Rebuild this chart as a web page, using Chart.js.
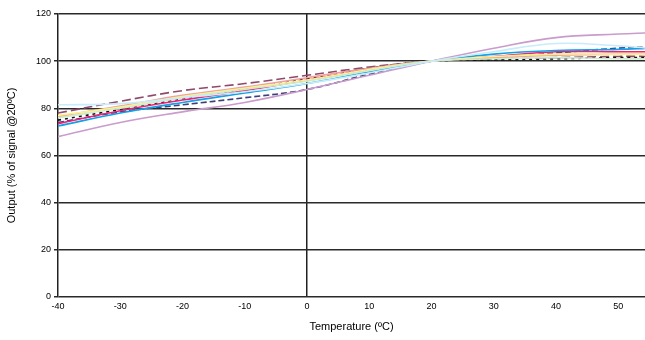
<!DOCTYPE html>
<html>
<head>
<meta charset="utf-8">
<script src="https://cdn.jsdelivr.net/npm/chart.js@4"></script>
<style>
  html, body { margin: 0; padding: 0; background: #fff; }
  #wrap { width: 645px; height: 340px; }
</style>
</head>
<body>
<div id="wrap"><canvas id="myChart"></canvas></div>
<script>
// temperatures (ºC) where values were read
const temps = [-40, -30, -20, -10, 0, 10, 20, 30, 40, 50, 55]

// output in % of signal at 20ºC, one array per sensor
const maroon    = [78, 83, 87.5, 90.5, 94, 97.5, 100, 101, 101.5, 102, 102]
const black     = [75, 79.5, 84, 88, 92.5, 97, 100, 100.5, 101, 101.5, 101.5]
const yellow    = [77, 80.5, 85, 88.5, 92, 96.5, 100, 102, 103, 103, 103]
const lightCyan = [81.5, 82, 84.5, 87, 90.5, 95, 100, 104, 107.5, 106.5, 105.5]
const magenta   = [73.5, 79, 83.5, 87.5, 92, 96.5, 100, 102, 104, 104, 104]
const skyBlue   = [72.5, 78, 82.5, 86.5, 90.5, 95.5, 100, 103, 104.5, 105, 105.5]
const navy      = [74, 78.5, 81.5, 84.5, 88, 94.5, 100, 101.5, 103.5, 105.5, 106]
const lilac     = [68, 74, 78.5, 82.5, 88, 94, 100, 105.5, 110, 111.5, 112]
const paleGreen = [76, 80, 84.5, 88, 91.5, 96, 100, 101, 101.5, 101, 101]
const salmon    = [76.5, 81, 85.5, 89, 93, 97, 100, 101.5, 102.5, 103, 103]

const xTicks = [-40, -30, -20, -10, 0, 10, 20, 30, 40, 50]
const yTicks = [0, 20, 40, 60, 80, 100, 120]

const series = [
    { label: 'S1', data: lightCyan, color: '#c8ecfa' },
    { label: 'S2', data: paleGreen, color: '#cdeccd' },
    { label: 'S3', data: yellow, color: '#fff08a' },
    { label: 'S4', data: salmon, color: '#f0a0a0' },
    { label: 'S5', data: lilac, color: '#c99ccc' },
    { label: 'S6', data: skyBlue, color: '#12a0e6' },
    { label: 'S7', data: magenta, color: '#ee2277' },
    { label: 'S8', data: navy, color: '#3c3f7a', dash: [6, 3] },
    { label: 'S9', data: black, color: '#111111', dash: [3, 4] },
    { label: 'S10', data: maroon, color: '#8e4a6a', dash: [9, 4] }
]

const font = { family: 'Liberation Sans, Arial, sans-serif', size: 9 }

new Chart(document.getElementById('myChart').getContext('2d'), {
    type: 'line',
    data: {
        datasets: series.map(s => ({
            label: s.label,
            data: temps.map((t, i) => ({ x: t, y: s.data[i] })),
            borderColor: s.color,
            borderWidth: 1.6,
            borderDash: s.dash || [],
            pointRadius: 0,
            tension: 0.4,
            fill: false
        }))
    },
    options: {
        responsive: true,
        maintainAspectRatio: false,
        animation: false,
        layout: { padding: { top: 14, right: 0, left: 0, bottom: 0 } },
        plugins: { legend: { display: false }, tooltip: { enabled: false } },
        scales: {
            x: {
                type: 'linear',
                min: -40,
                max: 54.3,
                afterBuildTicks: axis => { axis.ticks = xTicks.map(v => ({ value: v })) },
                afterFit: axis => { axis.height = 43 },
                ticks: { color: '#000', font: font, padding: 4, maxRotation: 0 },
                grid: {
                    drawTicks: false,
                    color: c => c.tick && c.tick.value === 0 ? '#222' : 'rgba(0,0,0,0)',
                    lineWidth: 1.5
                },
                border: { display: false },
                title: {
                    display: true,
                    text: 'Temperature (ºC)',
                    color: '#000',
                    font: { family: font.family, size: 11 },
                    padding: { top: 2, bottom: 6 }
                }
            },
            y: {
                min: 0,
                max: 120,
                afterBuildTicks: axis => { axis.ticks = yTicks.map(v => ({ value: v })) },
                afterFit: axis => { axis.width = 58 },
                ticks: { color: '#000', font: font, padding: 3 },
                grid: { color: '#2a2a2a', lineWidth: 1.5, tickLength: 4 },
                border: { display: true, color: '#222', width: 1.5 },
                title: {
                    display: true,
                    text: 'Output (% of signal @20ºC)',
                    color: '#000',
                    font: { family: font.family, size: 11 },
                    padding: { top: 5, bottom: 2 }
                }
            }
        }
    }
})
</script>
</body>
</html>
